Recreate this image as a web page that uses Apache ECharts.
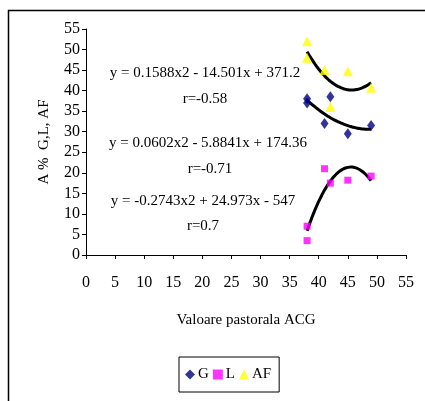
<!DOCTYPE html>
<html>
<head>
<meta charset="utf-8">
<script src="https://cdn.jsdelivr.net/npm/echarts@6/dist/echarts.min.js"></script>
<style>
  html, body { margin: 0; padding: 0; background: #fff; }
  #main { width: 425px; height: 401px; }
</style>
</head>
<body>
<div id="main"></div>
<script>
// valori
var xVals = [38, 38, 41, 42, 45, 49]
var gVals = [38, 37, 32, 38.5, 29.5, 31.5]
var lVals = [7, 3.5, 21, 17.5, 18.2, 19.2]
var afVals = [52, 48, 45, 36, 44.7, 40.7]
var axisTicks = [0, 5, 10, 15, 20, 25, 30, 35, 40, 45, 50, 55]

// coeficientii liniilor de tendinta (a*x^2 + b*x + c), din etichete
var gTrend = [0.0602, -5.8841, 174.36]
var lTrend = [-0.2743, 24.973, -547]
var afTrend = [0.1588, -14.501, 371.2]

var labels = [
  ['y = 0.1588x2 - 14.501x + 371.2', 'r=-0.58'],
  ['y = 0.0602x2 - 5.8841x + 174.36', 'r=-0.71'],
  ['y = -0.2743x2 + 24.973x - 547', 'r=0.7']
]

function pairs (ys) {
  return xVals.map(function (x, i) { return [x, ys[i]] })
}

function trend (k) {
  var out = []
  for (var x = 38; x <= 49.001; x += 0.25) {
    out.push([x, k[0] * x * x + k[1] * x + k[2]])
  }
  return out
}

var font = '"Liberation Serif", "Times New Roman", serif'

function trendSeries (k) {
  return {
    type: 'line',
    data: trend(k),
    showSymbol: false,
    smooth: true,
    silent: true,
    lineStyle: { color: '#000', width: 3 },
    z: 3
  }
}

function textEl (x, y, t) {
  return {
    type: 'text',
    x: x,
    y: y,
    style: { text: t, font: '15px ' + font, fill: '#000', align: 'center', verticalAlign: 'middle' }
  }
}

var chart = echarts.init(document.getElementById('main'), null, { renderer: 'canvas' })
chart.setOption({
  backgroundColor: '#fff',
  animation: false,
  textStyle: { fontFamily: font },
  grid: { left: 86, right: 19, top: 29, bottom: 146 },
  xAxis: {
    type: 'value',
    min: axisTicks[0],
    max: axisTicks[axisTicks.length - 1],
    interval: 5,
    name: 'Valoare pastorala ACG',
    nameLocation: 'middle',
    nameGap: 58,
    nameTextStyle: { fontSize: 15, color: '#000', fontFamily: font },
    axisLine: { lineStyle: { color: '#000', width: 1 } },
    axisTick: { show: true, length: 4, lineStyle: { color: '#000' } },
    axisLabel: { fontSize: 16, color: '#000', margin: 20, fontFamily: font },
    splitLine: { show: false }
  },
  yAxis: {
    type: 'value',
    min: axisTicks[0],
    max: axisTicks[axisTicks.length - 1],
    interval: 5,
    name: 'A %  G,L, AF',
    nameLocation: 'middle',
    nameGap: 34,
    nameTextStyle: { fontSize: 15, color: '#000', fontFamily: font },
    axisLine: { show: true, lineStyle: { color: '#000', width: 1 } },
    axisTick: { show: true, length: 4, lineStyle: { color: '#000' } },
    axisLabel: { fontSize: 16, color: '#000', margin: 6, fontFamily: font },
    splitLine: { show: false }
  },
  legend: {
    left: 179,
    top: 357,
    width: 101,
    height: 36,
    padding: [10, 8, 10, 6],
    itemGap: 4,
    itemWidth: 10,
    itemHeight: 10,
    borderColor: '#000',
    borderWidth: 1,
    textStyle: { fontSize: 15, color: '#000', fontFamily: font, padding: [0, 0, 0, -2] },
    data: ['G', 'L', 'AF']
  },
  series: [
    { name: 'G', type: 'scatter', symbol: 'diamond', symbolSize: [8, 11], itemStyle: { color: '#000080' }, data: pairs(gVals), z: 4 },
    { name: 'L', type: 'scatter', symbol: 'rect', symbolSize: 7, itemStyle: { color: '#FF00FF' }, data: pairs(lVals), z: 4 },
    { name: 'AF', type: 'scatter', symbol: 'triangle', symbolSize: [10, 10], itemStyle: { color: '#FFFF00' }, data: pairs(afVals), z: 4 },
    trendSeries(afTrend),
    trendSeries(gTrend),
    trendSeries(lTrend)
  ],
  graphic: [
    { type: 'rect', shape: { x: 8.5, y: 10.5, width: 430, height: 400 }, style: { fill: null, stroke: '#000', lineWidth: 1.5 }, silent: true },
    textEl(205, 73, labels[0][0]),
    textEl(205, 99, labels[0][1]),
    textEl(208, 143, labels[1][0]),
    textEl(210, 169, labels[1][1]),
    textEl(203, 201, labels[2][0]),
    textEl(203, 226, labels[2][1])
  ]
})
</script>
</body>
</html>
